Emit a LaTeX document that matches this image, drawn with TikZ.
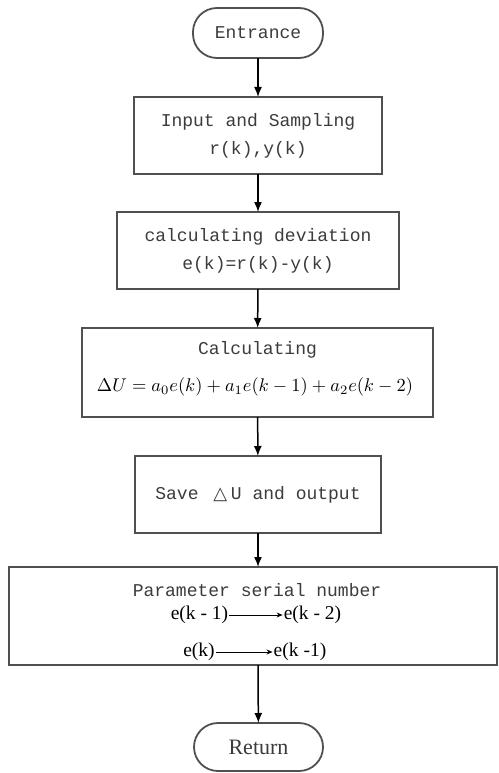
\documentclass[tikz,border=0pt]{standalone}
\usepackage{fontspec}
\setmainfont{Liberation Serif}
\newfontfamily\monof{Liberation Mono}
\newfontfamily\symf{DejaVu Sans}
\usetikzlibrary{arrows.meta}
\definecolor{ln}{HTML}{505050}
\definecolor{tx}{HTML}{3C3C3C}
\begin{document}
\begin{tikzpicture}[x=1pt,y=-1pt,
  box/.style={draw=ln, line width=1.8pt, inner sep=0pt, outer sep=0pt, align=center, text=tx},
  capsule/.style={box, rounded corners=24pt},
  mono/.style={font=\monof\fontsize{18}{28}\selectfont, text=tx},
  ser/.style={font=\fontsize{19.5}{22}\selectfont, text=black, inner sep=1pt},
  conn/.style={draw=black, line width=1.5pt, -{Latex[length=10pt,width=8pt]}},
  thinarrow/.style={draw=black, line width=0.9pt, -{Stealth[length=6pt,width=5pt]}},
]
\useasboundingbox (0,0) rectangle (498,773);
\fill[white] (0,0) rectangle (498,773);

\node[capsule, mono, minimum width=130pt, minimum height=50pt] (ent) at (258,33) {Entrance};
\node[box, mono, minimum width=248pt, minimum height=77pt] (inp) at (258,135.5) {Input and Sampling\\r(k),y(k)};
\node[box, mono, minimum width=282pt, minimum height=77pt] (dev) at (258,250.5) {calculating deviation\\e(k)=r(k)-y(k)};
\node[box, minimum width=351pt, minimum height=89pt] (calc) at (257.5,372.5) {};
\node[mono] (calct) at (257.5,350) {Calculating};
\node[text=black, inner sep=0pt] (calcm) at (255,387) {\resizebox{316pt}{!}{$\Delta U = a_0e(k)+a_1e(k-1)+a_2e(k-2)$}};
\node[box, mono, minimum width=246pt, minimum height=77pt] (save) at (258,494.5) {Save \makebox[21.6pt]{\symf △}U and output};
\node[box, minimum width=488pt, minimum height=98pt] (par) at (253,616) {};
\node[mono] (part) at (257,590) {Parameter serial number};
\node[ser] (pa1) at (199.5,615) {e(k - 1)};
\node[ser] (pb1) at (312.5,615) {e(k - 2)};
\node[ser] (pa2) at (199,652) {e(k)};
\node[ser] (pb2) at (300,652) {e(k -1)};
\node[capsule, font=\fontsize{22}{24}\selectfont, minimum width=129pt, minimum height=48pt] (ret) at (258.5,747) {Return};

\draw[thinarrow] (pa1) -- (pb1);
\draw[thinarrow] (pa2) -- (pb2);

\draw[conn] (ent) -- (inp);
\draw[conn] (inp) -- (dev);
\draw[conn] (dev) -- (calc);
\draw[conn] (calc) -- (save);
\draw[conn] (save.south) -- (save.south |- par.north);
\draw[conn] (par.south -| save.south) -- (ret);
\end{tikzpicture}
\end{document}
